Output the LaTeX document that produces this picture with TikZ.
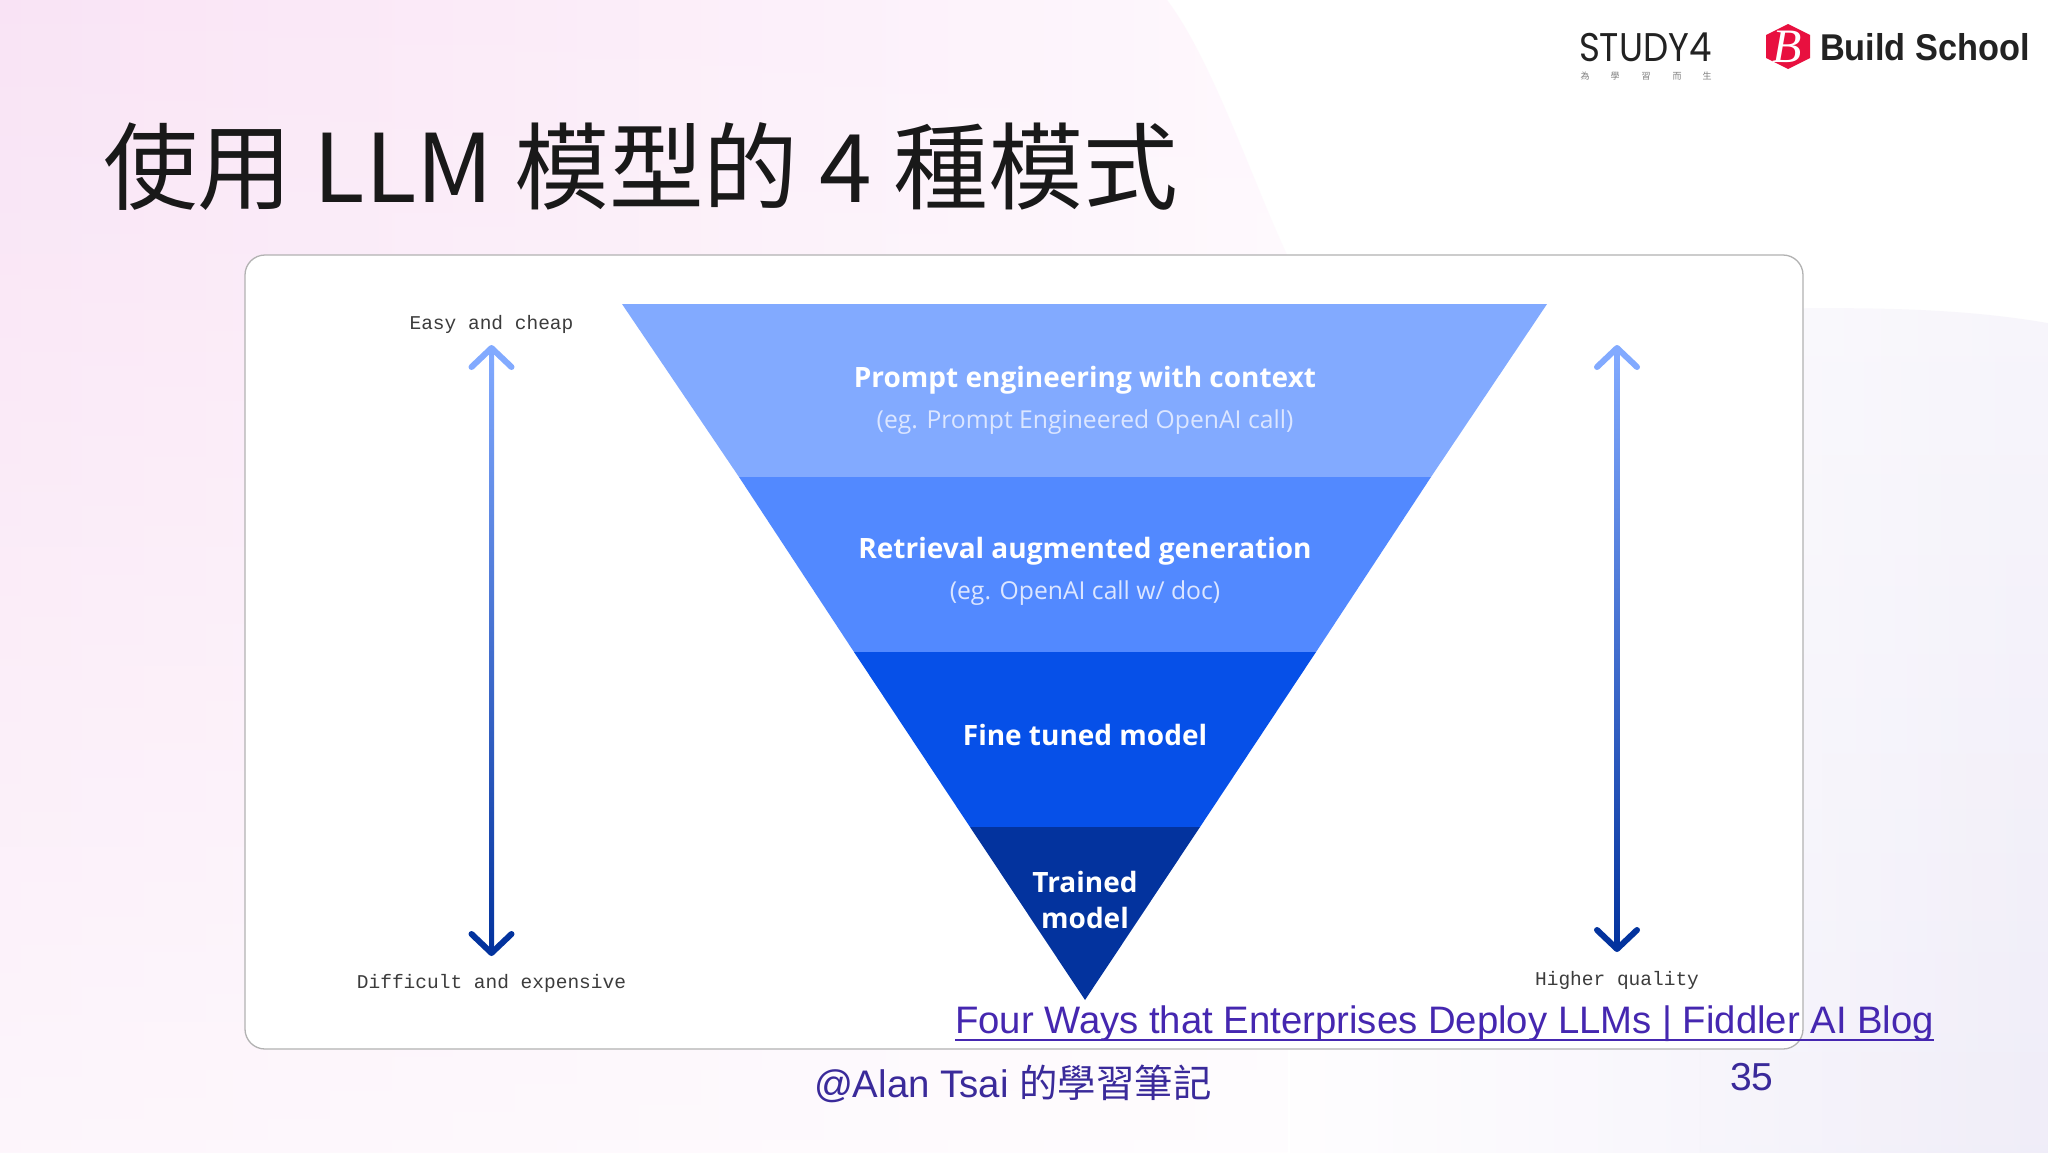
\documentclass[tikz,border=0pt]{standalone}
\usepackage{fontspec}
\setmainfont{Liberation Sans}
\newfontfamily\cjkf{Noto Sans CJK TC}
\newfontfamily\bandf{Open Sans}
\newfontfamily\monof{Liberation Mono}
\newfontfamily\logof[FakeStretch=0.89]{Poppins}
\newfontfamily\buildf[FakeStretch=0.92]{Liberation Sans}
\newfontfamily\serif{Liberation Serif}
\usetikzlibrary{calc,fadings}
\definecolor{bandA}{HTML}{82AAFF}
\definecolor{bandB}{HTML}{5289FF}
\definecolor{bandC}{HTML}{0650E8}
\definecolor{bandD}{HTML}{03339E}
\definecolor{linkc}{HTML}{4527B0}
\definecolor{footc}{HTML}{3A2A9A}
\definecolor{inkc}{HTML}{222222}
\definecolor{monoc}{HTML}{3C3C3C}
\definecolor{pinkc}{HTML}{F9E3F5}
\definecolor{pinkr}{HTML}{FEF8FD}
\definecolor{hexc}{HTML}{E8103F}
\definecolor{subc}{HTML}{DCE6FF}
\definecolor{lavt}{HTML}{F7F5FB}
\definecolor{lavm}{HTML}{E5E1F3}
\definecolor{lavb}{HTML}{EFECF8}
\definecolor{baseL}{HTML}{FEFDFE}
\definecolor{baseR}{HTML}{F8F6FC}
\tikzfading[name=pinkfade,top color=transparent!0,bottom color=transparent!70]
\tikzfading[name=lavfade,left color=transparent!50,right color=transparent!0]
\tikzset{
  x=1pt,y=-1pt,
  txt/.style={inner sep=0pt,outer sep=0pt},
  headtxt/.style={txt,font=\bandf\fontsize{28}{34}\selectfont\bfseries,text=white},
  subtxt/.style={txt,font=\bandf\fontsize{24.7}{29}\selectfont,text=subc},
  monotxt/.style={txt,font=\monof\fontsize{19.5}{24}\selectfont,text=monoc},
  barb/.style={line width=6pt,line cap=round,line join=round},
}
\begin{document}
\begin{tikzpicture}
\useasboundingbox (0,0) rectangle (2048,1152);
% background
\fill[white] (0,0) rectangle (2048,1152);
\path[left color=baseL,right color=baseR] (1290,1000) rectangle (1700,1152);
\path[left color=pinkc,right color=pinkr,path fading=pinkfade,fit fading=true]
  (-10,-40) -- (1150,-40) -- (1170,0) .. controls (1215,60) and (1255,180) .. (1290,255)
  -- (1290,1200) -- (-10,1200) -- cycle;
\path[top color=lavt,middle color=lavm,bottom color=lavb,path fading=lavfade,fit fading=true]
  (1700,1200) -- (1700,309) .. controls (1850,305) and (1960,305) .. (2060,324) -- (2060,1200) -- cycle;
% card
\draw[draw=black!30,fill=white,line width=1.3pt,rounded corners=20pt] (245,255) rectangle (1803,1049);
% pyramid
\coordinate (tl) at (622,304);
\coordinate (tr) at (1547,304);
\coordinate (apex) at (1085,1000);
\fill[bandA] (tl) -- (tr) -- (1431,477) -- (739,477) -- cycle;
\fill[bandB] (739,477) -- (1431,477) -- (1316,652) -- (854,652) -- cycle;
\fill[bandC] (854,652) -- (1316,652) -- (1200,827) -- (970,827) -- cycle;
\fill[bandD] (970,827) -- (1200,827) -- (apex) -- cycle;
\node[headtxt] (pa) at (1085,380.5) {Prompt engineering with context};
\node[subtxt] (pb) at (1085,422) {(eg. Prompt Engineered OpenAI call)};
\node[headtxt] (ra) at (1085,551.5) {Retrieval augmented generation};
\node[subtxt] (rb) at (1085,593) {(eg. OpenAI call w/ doc)};
\node[headtxt] (fa) at (1085,735) {Fine tuned model};
\node[headtxt] (ta) at (1085,882) {Trained};
\node[headtxt] (tb) at (1085,918) {model};
% labels
\node[monotxt] (easy) at (491.5,324) {Easy and cheap};
\node[monotxt] (diff) at (491.5,983) {Difficult and expensive};
\node[monotxt] (high) at (1617,980) {Higher quality};
% arrows
\coordinate (lt) at (491.5,347);
\coordinate (lb) at (491.5,954);
\coordinate (rt) at (1617,347);
\coordinate (rb2) at (1617,950);
\shade[top color=bandA,bottom color=bandD] ($(lt)+(-2.5,4)$) rectangle ($(lb)+(2.5,-4)$);
\shade[top color=bandA,bottom color=bandD] ($(rt)+(-2.5,4)$) rectangle ($(rb2)+(2.5,-4)$);
\draw[barb,bandA] ($(lt)+(-20,20)$) -- ($(lt)+(0,1)$) -- ($(lt)+(20,20)$);
\draw[barb,bandD] ($(lb)+(-20,-20)$) -- ($(lb)+(0,-1)$) -- ($(lb)+(20,-20)$);
\draw[barb,bandA] ($(rt)+(-20,20)$) -- ($(rt)+(0,1)$) -- ($(rt)+(20,20)$);
\draw[barb,bandD] ($(rb2)+(-20,-20)$) -- ($(rb2)+(0,-1)$) -- ($(rb2)+(20,-20)$);
% title
\node[txt,anchor=base west,text=black!90,font=\cjkf\fontsize{94.7}{100}\selectfont] (title) at (103,202) {使用 LLM 模型的 4 種模式};
% logos
\node[txt,anchor=base west,text=inkc,font=\logof\fontsize{40}{42}\selectfont] (study) at (1579,61) {STUDY4};
\foreach \ch/\xx in {為/1585,學/1615,習/1646,而/1677,生/1707}
  \node[txt,text=black!50,font=\cjkf\fontsize{9}{10}\selectfont] at (\xx,76) {\ch};
\fill[hexc] (1788,24) -- (1810,35) -- (1810,58) -- (1788,69) -- (1766,58) -- (1766,35) -- cycle;
\node[txt,text=white,font=\serif\itshape\fontsize{48}{50}\selectfont] (bmark) at (1787,47) {B};
\node[txt,anchor=base west,text=inkc,font=\buildf\fontsize{37.3}{40}\selectfont\bfseries] (bs) at (1820,60) {Build School};
% footer
\node[txt,anchor=base west,text=linkc,font=\fontsize{38.3}{44}\selectfont] (link) at (955,1033) {Four Ways that Enterprises Deploy LLMs | Fiddler AI Blog};
\draw[linkc,line width=2pt] (link.base west |- 0,1040) -- (link.base east |- 0,1040);
\node[txt,anchor=base west,text=footc,font=\fontsize{38.4}{44}\selectfont] (foot) at (814,1097) {@Alan Tsai {\cjkf 的學習筆記}};
\node[txt,anchor=base west,text=footc,font=\fontsize{39}{44}\selectfont] (num) at (1730,1090) {35};
\end{tikzpicture}
\end{document}
